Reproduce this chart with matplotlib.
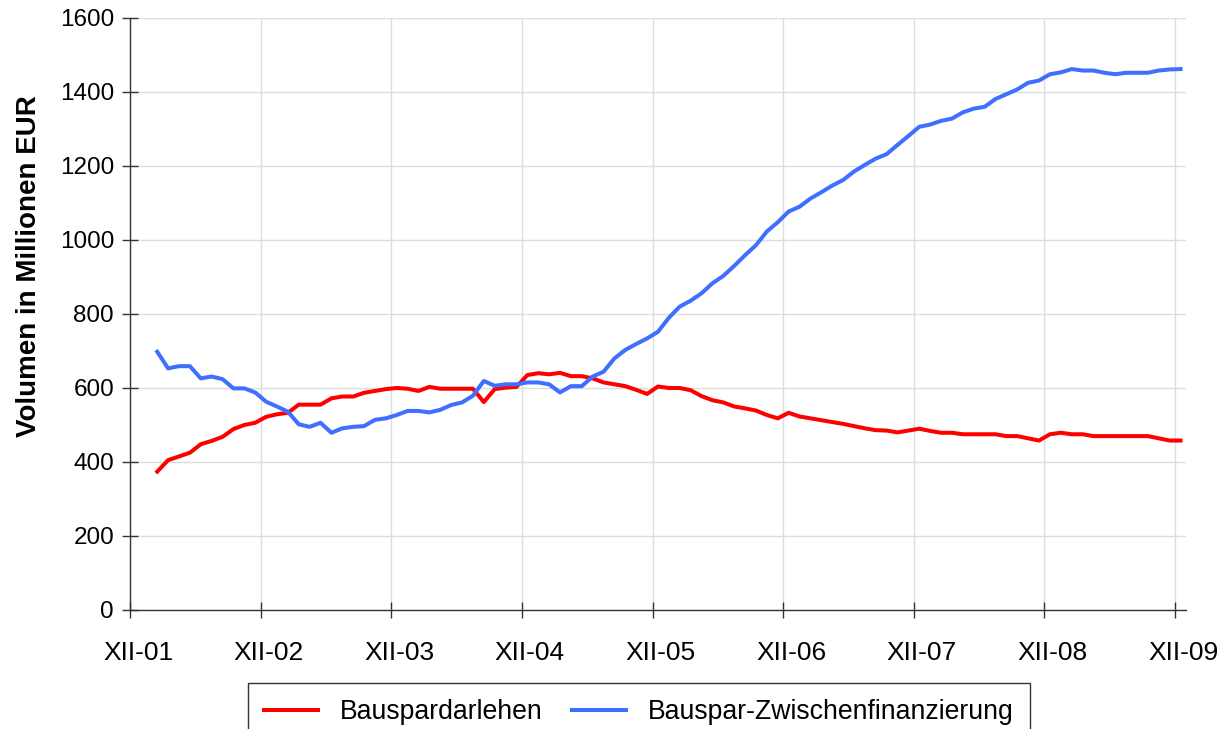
import matplotlib
matplotlib.use("Agg")
import matplotlib.pyplot as plt
import matplotlib.transforms as mtransforms
import numpy as np

plt.rcParams['font.family'] = ['Liberation Sans', 'DejaVu Sans']

# Monthly data, first point about Feb/Mar 2002 (month offset from XII-01)
first_month = 2.5
bauspardarlehen = [
    374, 405, 415, 425, 448, 457, 468, 489, 500, 506,
    522, 529, 533, 555, 555, 555, 572, 577, 577, 587,
    592, 597, 600, 598, 592, 603, 598, 598, 598, 598,
    562, 597, 601, 603, 635, 640, 637, 641, 632, 632,
    626, 615, 610, 605, 595, 584, 604, 600, 600, 594,
    578, 567, 561, 550, 545, 539, 527, 518, 533, 523,
    518, 513, 508, 503, 497, 491, 486, 485, 480, 485,
    490, 484, 479, 479, 475, 475, 475, 475, 470, 470,
    464, 458, 475, 479, 475, 475, 470, 470, 470, 470,
    470, 470, 464, 458, 458,
]
zwischenfinanzierung = [
    698, 653, 659, 659, 626, 631, 624, 599, 599, 588,
    563, 550, 536, 502, 495, 506, 479, 491, 495, 497,
    514, 518, 527, 538, 538, 534, 541, 554, 561, 579,
    619, 606, 610, 610, 615, 615, 610, 588, 605, 605,
    631, 644, 680, 703, 719, 734, 752, 790, 820, 836,
    856, 883, 903, 930, 959, 986, 1023, 1048, 1077, 1090,
    1112, 1129, 1147, 1162, 1185, 1203, 1220, 1232, 1257, 1281,
    1306, 1312, 1322, 1328, 1345, 1355, 1360, 1381, 1394, 1407,
    1425, 1431, 1448, 1453, 1462, 1458, 1458, 1452, 1448, 1452,
    1452, 1452, 1458, 1461, 1462,
]
tick_labels = ["XII-01", "XII-02", "XII-03", "XII-04", "XII-05",
               "XII-06", "XII-07", "XII-08", "XII-09"]
series_names = ["Bauspardarlehen", "Bauspar-Zwischenfinanzierung"]

x = first_month + np.arange(len(bauspardarlehen))

fig = plt.figure(figsize=(12.22, 7.29), dpi=100)
ax = fig.add_axes([130/1222, 1-610/729, (1186-130)/1222, (610-18)/729])

ax.plot(x, bauspardarlehen, color='#ff0000', lw=2.9, label=series_names[0],
        solid_joinstyle='round')
ax.plot(x, zwischenfinanzierung, color='#3f6fff', lw=2.9, label=series_names[1],
        solid_joinstyle='round')

ax.set_xlim(0, 97)
ax.set_ylim(0, 1600)
ax.set_xticks(np.arange(len(tick_labels)) * 12)
ax.set_xticklabels(tick_labels)
ax.set_yticks(np.arange(0, 1601, 200))

for s in ['top', 'right']:
    ax.spines[s].set_visible(False)
for s in ['left', 'bottom']:
    ax.spines[s].set_color('#333333')
    ax.spines[s].set_linewidth(1.0)

ax.grid(True, color='#dddddd', lw=1.0)
ax.set_axisbelow(True)
ax.tick_params(axis='both', direction='inout', length=11, width=1.0,
               color='#333333', labelcolor='black')
ax.tick_params(axis='y', pad=6, labelsize=17.5)
ax.tick_params(axis='x', pad=17, labelsize=19)

# shift x tick labels slightly right as in the reference
offset = mtransforms.ScaledTranslation(8/100, 0, fig.dpi_scale_trans)
for lbl in ax.get_xticklabels():
    lbl.set_transform(lbl.get_transform() + offset)

ax.set_ylabel("Volumen in Millionen EUR", fontsize=20, fontweight='bold')
ax.yaxis.set_label_coords(-0.0833, 0.581)

leg = fig.legend(loc='upper center', bbox_to_anchor=(0.523, 1-683/729),
                 ncol=2, frameon=True, fancybox=False, fontsize=19.2,
                 handlelength=2.0, handletextpad=0.85, columnspacing=1.1,
                 borderpad=0.6, borderaxespad=0)
leg.get_frame().set_edgecolor('black')
leg.get_frame().set_linewidth(1.0)

fig.savefig("out.png", dpi=100)
